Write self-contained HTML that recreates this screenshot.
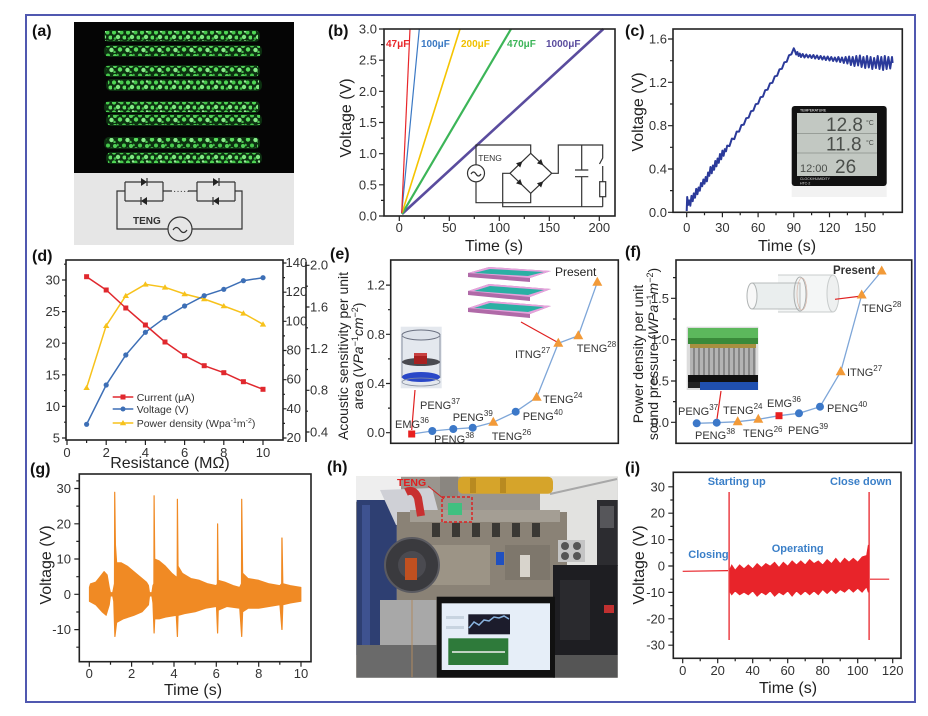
<!DOCTYPE html>
<html><head><meta charset="utf-8"><style>
html,body{margin:0;padding:0;background:#fff;}
svg{display:block;}
text{font-family:"Liberation Sans",sans-serif;}
.t{font-size:13px;fill:#333;}
.ax{font-size:16px;fill:#222;}
.pl{font-size:16px;font-weight:bold;fill:#111;}
.fr{fill:none;stroke:#222;stroke-width:1.6;}
.tk{stroke:#222;stroke-width:1.2;fill:none;}
.sr{font-family:"Liberation Serif",serif;font-size:11px;fill:#333;}
.ci{stroke:#333;stroke-width:1.2;fill:none;}
</style></head><body>
<svg width="928" height="716" viewBox="0 0 928 716" xmlns="http://www.w3.org/2000/svg">
<defs>
<pattern id="dp" x="0" y="0" width="14" height="10" patternUnits="userSpaceOnUse">
<circle cx="2" cy="2.5" r="2.1" fill="#4fd655"/><circle cx="6" cy="7" r="2.2" fill="#7ee880"/>
<circle cx="9.5" cy="2.5" r="2" fill="#46c84c"/><circle cx="12.5" cy="7.5" r="2" fill="#5ede62"/>
<circle cx="3" cy="8.5" r="1.3" fill="#3cb842"/><circle cx="7" cy="1.5" r="1.2" fill="#9af09a"/>
</pattern>
<pattern id="dp2" x="5" y="3" width="16" height="10" patternUnits="userSpaceOnUse">
<circle cx="3" cy="6.5" r="2.2" fill="#5ade5e"/><circle cx="7" cy="2.5" r="2" fill="#46c84c"/>
<circle cx="10.5" cy="7" r="2.2" fill="#86ec88"/><circle cx="14" cy="3" r="2" fill="#52d058"/>
<circle cx="0.5" cy="2" r="1.3" fill="#3cb842"/><circle cx="13.5" cy="9" r="1.2" fill="#4ac050"/>
</pattern>
</defs>

<!-- outer border -->
<rect x="26" y="15" width="889" height="687" fill="none" stroke="#5058b0" stroke-width="2"/>

<!-- ===== (a) ===== -->
<text class="pl" x="32" y="36">(a)</text>
<rect x="74" y="22" width="220" height="151" fill="#050505"/>
<g fill="#0c3010">
<rect x="104" y="30" width="156" height="12" rx="5"/><rect x="104" y="45" width="158" height="12" rx="5"/>
<rect x="104" y="65" width="156" height="12" rx="5"/><rect x="106" y="79" width="156" height="12" rx="5"/>
<rect x="104" y="101" width="156" height="12" rx="5"/><rect x="106" y="114" width="156" height="12" rx="5"/>
<rect x="104" y="137" width="156" height="12" rx="5"/><rect x="106" y="152" width="156" height="12" rx="5"/>
</g>
<rect x="105" y="31" width="153" height="10" fill="url(#dp)"/>
<rect x="106" y="46" width="154" height="10" fill="url(#dp2)"/>
<rect x="106" y="66" width="152" height="10" fill="url(#dp2)"/>
<rect x="108" y="80" width="151" height="10" fill="url(#dp)"/>
<rect x="106" y="102" width="152" height="10" fill="url(#dp)"/>
<rect x="108" y="115" width="152" height="10" fill="url(#dp2)"/>
<rect x="106" y="138" width="152" height="10" fill="url(#dp2)"/>
<rect x="108" y="153" width="152" height="10" fill="url(#dp)"/>
<rect x="74" y="173" width="220" height="72" fill="#e6e6e6"/>
<g class="ci">
<path d="M125,182 V201 M163,182 V201 M125,182 H163 M125,201 H163"/>
<path d="M197,182 V201 M235,182 V201 M197,182 H235 M197,201 H235"/>
<path d="M163,191 H172 M188,191 H197"/>
<path d="M125,191 H117 V229 H168 M192,229 H242 V191 H235"/>
<circle cx="180" cy="229" r="12"/>
<path d="M173,230 q3.5,-5 7,0 t7,0"/>
<path d="M147,178 V186 M141,197 V205 M219,178 V186 M213,197 V205"/>
</g>
<text x="173" y="194" font-size="10" fill="#333">·····</text>
<polygon points="141,178 147,182 141,186" fill="#222"/>
<polygon points="147,197 141,201 147,205" fill="#222"/>
<polygon points="213,178 219,182 213,186" fill="#222"/>
<polygon points="219,197 213,201 219,205" fill="#222"/>
<text x="133" y="224" font-size="10" font-weight="bold" fill="#333">TENG</text>

<!-- ===== (b) ===== -->
<text class="pl" x="328" y="36">(b)</text>
<g class="tk">
<path d="M379,216H384M379,184.8H384M379,153.7H384M379,122.5H384M379,91.3H384M379,60.2H384M379,29H384"/>
<path d="M381,200.4H384M381,169.3H384M381,138.1H384M381,106.9H384M381,75.8H384M381,44.6H384"/>
<path d="M399.3,216V221M449.3,216V221M499.3,216V221M549.3,216V221M599.3,216V221"/>
<path d="M424.3,216V219M474.3,216V219M524.3,216V219M574.3,216V219"/>
</g>
<g class="t" text-anchor="end">
<text x="377" y="220.5">0.0</text><text x="377" y="189.3">0.5</text><text x="377" y="158.2">1.0</text>
<text x="377" y="127">1.5</text><text x="377" y="95.8">2.0</text><text x="377" y="64.7">2.5</text><text x="377" y="33.5">3.0</text>
</g>
<g class="t" text-anchor="middle">
<text x="399.3" y="232">0</text><text x="449.3" y="232">50</text><text x="499.3" y="232">100</text>
<text x="549.3" y="232">150</text><text x="599.3" y="232">200</text>
</g>
<text class="ax" x="494" y="251" text-anchor="middle">Time (s)</text>
<text class="ax" transform="translate(351,118) rotate(-90)" text-anchor="middle">Voltage (V)</text>
<path d="M402,214 L603.3,29" stroke="#5a4c9e" stroke-width="2.6" fill="none"/>
<path d="M402,214 L511,29" stroke="#3cb558" stroke-width="2.2" fill="none"/>
<path d="M402,213 L460,29" stroke="#f5c400" stroke-width="1.6" fill="none"/>
<path d="M401.7,213 L419.3,29" stroke="#3a78c4" stroke-width="1.2" fill="none"/>
<path d="M401.7,213 L410,29" stroke="#e8262a" stroke-width="1.2" fill="none"/>
<rect class="fr" x="384" y="29" width="231" height="187"/>
<g font-size="10" font-weight="bold">
<text x="386" y="47" fill="#e8262a">47μF</text>
<text x="421" y="47" fill="#3a78c4">100μF</text>
<text x="461" y="47" fill="#f0c000">200μF</text>
<text x="507" y="47" fill="#3cb558">470μF</text>
<text x="546" y="47" fill="#5a4c9e">1000μF</text>
</g>
<g class="ci" stroke-width="1">
<circle cx="476" cy="173.3" r="8.5"/>
<path d="M471,174 q2.5,-4 5,0 t5,0"/>
<path d="M476,164.8 V145 H530.7 V153.3 M476,181.8 V202.7 H530.7 V193.3"/>
<path d="M530.7,153.3 L551.7,173.3 L530.7,193.3 L510,173.3 Z"/>
<path d="M510,173.3 H502.7 V206.7 H602.7 M551.7,173.3 H558.3 V145 H602.7 V158 L599.5,164 M602.7,166 V181.7 M602.7,196.7 V206.7"/>
<rect x="599.7" y="181.7" width="6" height="15"/>
<path d="M581.7,145 V170 M575,170 H588.3 M575,176.7 H588.3 M581.7,176.7 V206.7"/>
</g>
<g fill="#222">
<polygon points="-3,-3 3,0 -3,3" transform="translate(520.3,163.3) rotate(-44)"/>
<polygon points="-3,-3 3,0 -3,3" transform="translate(541.2,163.3) rotate(44)"/>
<polygon points="-3,-3 3,0 -3,3" transform="translate(520.3,183.3) rotate(44)"/>
<polygon points="-3,-3 3,0 -3,3" transform="translate(541.2,183.3) rotate(-44)"/>
</g>
<text x="478.3" y="161" font-size="8.5" fill="#333">TENG</text>

<!-- ===== (c) ===== -->
<text class="pl" x="625" y="36">(c)</text>
<g class="tk">
<path d="M668,212.3H673M668,169H673M668,125.7H673M668,82.3H673M668,39H673"/>
<path d="M670,190.6H673M670,147.3H673M670,104H673M670,60.7H673"/>
<path d="M686.7,212.3V217.3M722.4,212.3V217.3M758.1,212.3V217.3M793.8,212.3V217.3M829.5,212.3V217.3M865.2,212.3V217.3"/>
<path d="M704.5,212.3V215.3M740.2,212.3V215.3M776,212.3V215.3M811.6,212.3V215.3M847.4,212.3V215.3M883.1,212.3V215.3"/>
</g>
<g class="t" text-anchor="end">
<text x="667" y="216.8">0.0</text><text x="667" y="173.5">0.4</text><text x="667" y="130.2">0.8</text>
<text x="667" y="86.8">1.2</text><text x="667" y="43.5">1.6</text>
</g>
<g class="t" text-anchor="middle" font-size="14">
<text x="686.7" y="232">0</text><text x="722.4" y="232">30</text><text x="758.1" y="232">60</text>
<text x="793.8" y="232">90</text><text x="829.5" y="232">120</text><text x="865.2" y="232">150</text>
</g>
<text class="ax" x="787" y="251" text-anchor="middle">Time (s)</text>
<text class="ax" transform="translate(643,112) rotate(-90)" text-anchor="middle">Voltage (V)</text>
<!-- inset clock -->
<rect x="791.7" y="106" width="95" height="91" fill="#f2f2f2"/>
<rect x="791.7" y="106" width="95" height="80" rx="3" fill="#111"/>
<rect x="797" y="113" width="80" height="63" fill="#c2c8c2"/>
<line x1="797" y1="133.5" x2="877" y2="133.5" stroke="#8a908a" stroke-width="0.8"/>
<line x1="797" y1="153" x2="877" y2="153" stroke="#8a908a" stroke-width="0.8"/>
<text x="800" y="111.5" font-size="3.5" fill="#fff">TEMPERATURE</text>
<text x="826" y="131" font-size="19" fill="#4a4e4a">12.8</text>
<text x="826" y="150.5" font-size="19" fill="#4a4e4a">11.8</text>
<text x="800" y="172" font-size="11" fill="#4a4e4a">12:00</text>
<text x="835" y="173" font-size="19" fill="#4a4e4a">26</text>
<text x="866" y="125" font-size="7" fill="#4a4e4a">°C</text>
<text x="866" y="145" font-size="7" fill="#4a4e4a">°C</text>
<text x="800" y="180" font-size="3.5" fill="#ddd">CLOCK/HUMIDITY</text>
<text x="800" y="184.5" font-size="3.5" fill="#ddd">HTC-2</text>
<polyline fill="none" stroke="#2b3a9a" stroke-width="2" stroke-linejoin="round" points="686.7,211 687.2,197 688,205 689.1,200.4 690.3,205.7 691.5,195.9 692.7,201.2 693.8,193.4 695,197.7 696.2,188.9 697.4,194.2 698.6,187.5 699.8,190.7 701,183 702.2,186.2 703.4,179.5 704.5,183.7 705.7,177 706.9,181.3 708.1,172.5 709.3,175.8 710.5,167 711.7,173.3 712.9,165.5 714.1,169.8 715.3,161 716.4,166.3 717.6,158.5 718.8,162.8 720,154 721.2,159.3 722.4,150.6 723.6,155.8 724.8,149.1 726,151.3 727.2,145.6 729.5,146.1 731.9,138.6 734.3,139.1 736.7,131.6 739.1,131.6 741.4,125.1 743.8,124.6 746.2,118.2 748.6,117.7 751,111.2 753.3,110.7 755.7,104.2 758.1,103.7 760.5,97.2 762.9,96.7 765.2,90.2 767.6,89.7 770,83.3 772.4,82.8 774.8,76.3 777.1,75.8 779.5,69.3 781.9,68.8 784.3,62.3 786.7,61.8 789,55.3 791.4,54.3 793.8,48.3 795,51 796.2,54.5 797.4,52 798.6,56 799.8,53.5 801,57 802.7,54 804.5,57.5 806.3,54.5 808.1,57.5 809.9,55 811.6,58 813.4,55 815.2,58.5 817,55.5 818.8,59 820.6,56 822.4,59.5 824.1,56.5 825.9,60 827.7,56.5 829.5,60.5 831.3,57 833.1,61 834.9,57.5 836.6,61.5 838.4,57 840.2,62 842,57.5 843.8,63 845.6,57 847.4,63.5 849.1,56.5 850.9,65 852.7,57 854.5,66 856.3,56 858.1,65.5 859.9,55.5 861.6,67 863.4,57 865.2,68 867,56 868.8,67.5 870.6,57 872.3,69 874.1,58 875.9,68 877.7,56 879.5,69 881.3,57 883.1,70 884.8,56 886.6,69 888.4,57 890.2,68.5 892,57 892.6,63"/>
<rect class="fr" x="673" y="29" width="229.3" height="183.3"/>

<!-- ===== (d) ===== -->
<text class="pl" x="32" y="261">(d)</text>
<g class="tk">
<path d="M62,438H66M62,406.4H66M62,374.8H66M62,343.2H66M62,311.6H66M62,280H66"/>
<path d="M64,422.2H66M64,390.6H66M64,359H66M64,327.4H66M64,295.8H66M64,264.2H66"/>
<path d="M283,438H286.5M283,408.8H286.5M283,379.7H286.5M283,350.5H286.5M283,321.3H286.5M283,292.2H286.5M283,263H286.5"/>
<path d="M283,423.4H285M283,394.3H285M283,365.1H285M283,335.9H285M283,306.8H285M283,277.6H285"/>
<path d="M306,262V442" stroke-width="1.6"/>
<path d="M306,432H309.5M306,390.3H309.5M306,348.7H309.5M306,307H309.5M306,265.3H309.5"/>
<path d="M306,411.2H308M306,369.5H308M306,327.8H308M306,286.2H308"/>
<path d="M67,440V445M106.2,440V445M145.4,440V445M184.6,440V445M223.8,440V445M263,440V445"/>
<path d="M86.6,440V443M125.8,440V443M165,440V443M204.2,440V443M243.4,440V443"/>
</g>
<g class="t" text-anchor="end">
<text x="60" y="442.5">5</text><text x="60" y="410.9">10</text><text x="60" y="379.3">15</text>
<text x="60" y="347.7">20</text><text x="60" y="316.1">25</text><text x="60" y="284.5">30</text>
</g>
<g class="t" font-size="11.5">
<text x="286.5" y="442">20</text><text x="286.5" y="412.8">40</text><text x="286.5" y="383.7">60</text>
<text x="286.5" y="354.5">80</text><text x="285.5" y="325.3">100</text><text x="285.5" y="296.2">120</text><text x="285.5" y="267">140</text>
</g>
<g class="t" font-size="12">
<text x="310" y="436.3">0.4</text><text x="310" y="394.6">0.8</text><text x="310" y="353">1.2</text>
<text x="310" y="311.3">1.6</text><text x="310" y="269.6">2.0</text>
</g>
<g class="t" text-anchor="middle">
<text x="67" y="457">0</text><text x="106.2" y="457">2</text><text x="145.4" y="457">4</text>
<text x="184.6" y="457">6</text><text x="223.8" y="457">8</text><text x="263" y="457">10</text>
</g>
<text class="ax" x="170" y="468" text-anchor="middle">Resistance (MΩ)</text>
<polyline fill="none" stroke="#f7c21b" stroke-width="1.5" points="86.6,387.7 106.2,325.7 125.8,295.7 145.4,284.3 165,287.3 184.6,294 204.2,299 223.8,306 243.4,313.3 263,324.3"/>
<polyline fill="none" stroke="#3d6fb6" stroke-width="1.5" points="86.6,424.3 106.2,385 125.8,355 145.4,332.3 165,317.7 184.6,306 204.2,295.7 223.8,289.3 243.4,280.7 263,277.7"/>
<polyline fill="none" stroke="#e0282e" stroke-width="1.5" points="86.6,276.7 106.2,290 125.8,308 145.4,325 165,342 184.6,355.7 204.2,365.7 223.8,372.7 243.4,381.7 263,389.3"/>
<g fill="#f7c21b">
<polygon points="86.6,384.7 83.4,390 89.8,390"/><polygon points="106.2,322.7 103,328 109.4,328"/><polygon points="125.8,292.7 122.6,298 129,298"/><polygon points="145.4,281.3 142.2,286.6 148.6,286.6"/><polygon points="165,284.3 161.8,289.6 168.2,289.6"/><polygon points="184.6,291 181.4,296.3 187.8,296.3"/><polygon points="204.2,296 201,301.3 207.4,301.3"/><polygon points="223.8,303 220.6,308.3 227,308.3"/><polygon points="243.4,310.3 240.2,315.6 246.6,315.6"/><polygon points="263,321.3 259.8,326.6 266.2,326.6"/>
</g>
<g fill="#3d6fb6">
<circle cx="86.6" cy="424.3" r="2.6"/><circle cx="106.2" cy="385" r="2.6"/><circle cx="125.8" cy="355" r="2.6"/><circle cx="145.4" cy="332.3" r="2.6"/><circle cx="165" cy="317.7" r="2.6"/><circle cx="184.6" cy="306" r="2.6"/><circle cx="204.2" cy="295.7" r="2.6"/><circle cx="223.8" cy="289.3" r="2.6"/><circle cx="243.4" cy="280.7" r="2.6"/><circle cx="263" cy="277.7" r="2.6"/>
</g>
<g fill="#e0282e">
<rect x="84.1" y="274.2" width="5" height="5"/><rect x="103.7" y="287.5" width="5" height="5"/><rect x="123.3" y="305.5" width="5" height="5"/><rect x="142.9" y="322.5" width="5" height="5"/><rect x="162.5" y="339.5" width="5" height="5"/><rect x="182.1" y="353.2" width="5" height="5"/><rect x="201.7" y="363.2" width="5" height="5"/><rect x="221.3" y="370.2" width="5" height="5"/><rect x="240.9" y="379.2" width="5" height="5"/><rect x="260.5" y="386.8" width="5" height="5"/>
</g>
<rect class="fr" x="66" y="260" width="217" height="180"/>
<g stroke-width="1.5">
<line x1="112.7" y1="397" x2="133.3" y2="397" stroke="#e0282e"/>
<line x1="112.7" y1="409" x2="133.3" y2="409" stroke="#3d6fb6"/>
<line x1="112.7" y1="423" x2="133.3" y2="423" stroke="#f7c21b"/>
</g>
<rect x="120.5" y="394.5" width="5" height="5" fill="#e0282e"/>
<circle cx="123" cy="409" r="2.5" fill="#3d6fb6"/>
<polygon points="123,420 119.8,425.3 126.2,425.3" fill="#f7c21b"/>
<g font-size="10.5" fill="#333">
<text x="136.7" y="401">Current (μA)</text>
<text x="136.7" y="413">Voltage (V)</text>
<text x="136.7" y="427">Power density (Wpa<tspan font-size="7" dy="-4">-1</tspan><tspan dy="4">m</tspan><tspan font-size="7" dy="-4">-2</tspan><tspan dy="4">)</tspan></text>
</g>

<!-- ===== (e) ===== -->
<text class="pl" x="330" y="259">(e)</text>
<g class="tk">
<path d="M386,432.7H390.7M386,383.5H390.7M386,334.3H390.7M386,285.1H390.7"/>
<path d="M388,408.1H390.7M388,358.9H390.7M388,309.7H390.7"/>
</g>
<g class="t" text-anchor="end">
<text x="385" y="437.2">0.0</text><text x="385" y="388">0.4</text><text x="385" y="338.8">0.8</text><text x="385" y="289.6">1.2</text>
</g>
<g font-size="14" fill="#222" text-anchor="middle">
<text transform="translate(348,356) rotate(-90)">Acoustic sensitivity per unit</text>
<text transform="translate(363,356) rotate(-90)">area (<tspan font-style="italic">VPa</tspan><tspan font-size="9" dy="-5">−1</tspan><tspan font-style="italic" dy="5">cm</tspan><tspan font-size="9" dy="-5">−2</tspan><tspan dy="5">)</tspan></text>
</g>
<!-- layered inset -->
<g>
<polygon points="468,308 489,301 551,306 530,314 530,318 468,312" fill="#b06aa8"/>
<polygon points="468,308 489,301 551,306 530,314" fill="#e6a2dc"/>
<polygon points="474,308 490,303 544,307 528,312" fill="#2ab0a4"/>
<polygon points="468,291 489,284 551,289 530,297 530,301 468,295" fill="#b06aa8"/>
<polygon points="468,291 489,284 551,289 530,297" fill="#e6a2dc"/>
<polygon points="474,291 490,286 544,290 528,295" fill="#2ab0a4"/>
<polygon points="468,273 489,267 551,271 530,278 530,282 468,277" fill="#b06aa8"/>
<polygon points="468,273 489,267 551,271 530,278" fill="#e6a2dc"/>
<polygon points="474,273 490,269 544,272 528,276" fill="#2ab0a4"/>
</g>
<!-- cylinder inset -->
<rect x="400.7" y="326.7" width="41" height="61.6" fill="#e4e8ee"/>
<ellipse cx="421" cy="335" rx="19" ry="5" fill="#dde2ea" stroke="#6a7080" stroke-width="1"/>
<path d="M402,335 V378 M440,335 V378" stroke="#8890a0" stroke-width="1"/>
<ellipse cx="421" cy="362" rx="19" ry="4" fill="#4a4a50"/>
<rect x="414" y="353" width="13" height="11" fill="#a82020"/>
<rect x="414" y="353" width="13" height="3" fill="#c84040"/>
<ellipse cx="421" cy="377" rx="19" ry="5" fill="#2a48c8"/>
<ellipse cx="421" cy="382" rx="19" ry="4" fill="none" stroke="#8890a0" stroke-width="0.8"/>
<path d="M415,390 L411.7,430 M521,322 L557,342" stroke="#e02020" stroke-width="1.2"/>
<polyline fill="none" stroke="#7ea6d8" stroke-width="1.3" points="411.7,434 432.3,431 453.3,429 472.7,427.7 493.3,422.3 515.7,411.7 536.7,397.3 558.3,343.3 578.3,335.7 597.3,282.3"/>
<rect x="408.2" y="430.5" width="7" height="7" fill="#e82020"/>
<g fill="#3c78c8"><circle cx="432.3" cy="431" r="4"/><circle cx="453.3" cy="429" r="4"/><circle cx="472.7" cy="427.7" r="4"/><circle cx="515.7" cy="411.7" r="4"/></g>
<g fill="#f29a38">
<polygon points="493.3,416.8 488.3,425.8 498.3,425.8"/><polygon points="536.7,391.8 531.7,400.8 541.7,400.8"/><polygon points="558.3,337.8 553.3,346.8 563.3,346.8"/><polygon points="578.3,330.2 573.3,339.2 583.3,339.2"/><polygon points="597.3,276.8 592.3,285.8 602.3,285.8"/>
</g>
<rect class="fr" x="390.7" y="260" width="227.6" height="183.3"/>
<g class="sr">
<text x="395" y="428">EMG<tspan font-size="8" dy="-5">36</tspan></text>
<text x="420" y="409">PENG<tspan font-size="8" dy="-5">37</tspan></text>
<text x="434" y="443">PENG<tspan font-size="8" dy="-5">38</tspan></text>
<text x="452.7" y="421">PENG<tspan font-size="8" dy="-5">39</tspan></text>
<text x="491.7" y="440">TENG<tspan font-size="8" dy="-5">26</tspan></text>
<text x="522.7" y="420">PENG<tspan font-size="8" dy="-5">40</tspan></text>
<text x="543" y="403">TENG<tspan font-size="8" dy="-5">24</tspan></text>
<text x="515" y="358">ITNG<tspan font-size="8" dy="-5">27</tspan></text>
<text x="576.7" y="352">TENG<tspan font-size="8" dy="-5">28</tspan></text>
</g>
<text x="555" y="276" font-size="12" fill="#222">Present</text>

<!-- ===== (f) ===== -->
<text class="pl" x="625" y="257">(f)</text>
<g class="tk">
<path d="M671,422.3H676M671,381H676M671,339.6H676M671,298.3H676"/>
<path d="M673,401.6H676M673,360.3H676M673,319H676M673,277.6H676"/>
</g>
<g class="t" text-anchor="end">
<text x="669" y="426.8">0.0</text><text x="669" y="385.5">0.5</text><text x="669" y="344.1">1.0</text><text x="669" y="302.8">1.5</text>
</g>
<g font-size="14" fill="#222" text-anchor="middle">
<text transform="translate(643,354) rotate(-90)">Power density per unit</text>
<text transform="translate(658,354) rotate(-90)">sound pressure (<tspan font-style="italic">WPa</tspan><tspan font-size="9" dy="-5">−1</tspan><tspan font-style="italic" dy="5">m</tspan><tspan font-size="9" dy="-5">−2</tspan><tspan dy="5">)</tspan></text>
</g>
<!-- nanowire inset -->
<rect x="686.7" y="326.7" width="71.6" height="63.3" fill="#dcdcdc"/>
<rect x="688" y="328" width="70" height="10" fill="#5cb85c"/>
<rect x="688" y="338" width="70" height="6" fill="#3a8a3a"/>
<rect x="690" y="344" width="66" height="4" fill="#a89040"/>
<rect x="690" y="348" width="66" height="27" fill="#b4b4b4"/>
<path d="M694,348V375M699,348V375M704,348V375M709,348V375M714,348V375M719,348V375M724,348V375M729,348V375M734,348V375M739,348V375M744,348V375M749,348V375M754,348V375" stroke="#5a5a5a" stroke-width="1"/>
<rect x="688" y="375" width="70" height="7" fill="#111"/>
<rect x="700" y="382" width="58" height="8" fill="#2050b0"/>
<rect x="688" y="382" width="12" height="6" fill="#222"/>
<!-- tube inset -->
<path d="M778,275 H833 V312 H778" fill="#f4f6f6" stroke="#c8cccc" stroke-width="1"/>
<ellipse cx="833" cy="293.5" rx="6" ry="18.5" fill="#eef0f0" stroke="#c8cccc"/>
<path d="M752,283 H800 V309 H752" fill="#eaeeee" stroke="#b8bcbc" stroke-width="1"/>
<ellipse cx="752" cy="296" rx="5" ry="13" fill="#f8f8f8" stroke="#b0b4b4"/>
<ellipse cx="800" cy="294" rx="6" ry="17" fill="none" stroke="#a8acac"/>
<ellipse cx="802" cy="294" rx="5" ry="16" fill="none" stroke="#d8b0a0" stroke-width="0.6"/>
<path d="M721,391 L716.7,421 M835,299.3 L861.7,296" stroke="#e02020" stroke-width="1.2"/>
<polyline fill="none" stroke="#7ea6d8" stroke-width="1.3" points="696.7,423.3 716.7,422.7 737.7,421.7 758.3,419.3 779,415.7 799,413.3 820,406.7 840.7,371.7 861.7,295 881.7,271"/>
<g fill="#3c78c8"><circle cx="696.7" cy="423.3" r="4"/><circle cx="716.7" cy="422.7" r="4"/><circle cx="799" cy="413.3" r="4"/><circle cx="820" cy="406.7" r="4"/></g>
<rect x="775.5" y="412.2" width="7" height="7" fill="#e82020"/>
<g fill="#f29a38">
<polygon points="737.7,416.2 732.7,425.2 742.7,425.2"/><polygon points="758.3,413.8 753.3,422.8 763.3,422.8"/><polygon points="840.7,366.2 835.7,375.2 845.7,375.2"/><polygon points="861.7,289.5 856.7,298.5 866.7,298.5"/><polygon points="881.7,265.5 876.7,274.5 886.7,274.5"/>
</g>
<rect class="fr" x="676" y="260" width="235.7" height="183.3"/>
<g class="sr">
<text x="678" y="415">PENG<tspan font-size="8" dy="-5">37</tspan></text>
<text x="695" y="439">PENG<tspan font-size="8" dy="-5">38</tspan></text>
<text x="723" y="414">TENG<tspan font-size="8" dy="-5">24</tspan></text>
<text x="743" y="437">TENG<tspan font-size="8" dy="-5">26</tspan></text>
<text x="767" y="407">EMG<tspan font-size="8" dy="-5">36</tspan></text>
<text x="788" y="434">PENG<tspan font-size="8" dy="-5">39</tspan></text>
<text x="827" y="412">PENG<tspan font-size="8" dy="-5">40</tspan></text>
<text x="847" y="376">ITNG<tspan font-size="8" dy="-5">27</tspan></text>
<text x="862" y="312">TENG<tspan font-size="8" dy="-5">28</tspan></text>
</g>
<text x="833" y="274" font-size="11.5" font-weight="bold" fill="#333">Present</text>

<!-- ===== (g) ===== -->
<text class="pl" x="30" y="474">(g)</text>
<g class="tk">
<path d="M74.3,488.5H79.3M74.3,523.8H79.3M74.3,559H79.3M74.3,594.3H79.3M74.3,629.6H79.3"/>
<path d="M76.3,480.9H79.3M76.3,506.1H79.3M76.3,541.4H79.3M76.3,576.7H79.3M76.3,612H79.3M76.3,647.2H79.3"/>
<path d="M89.3,661.7V666.7M131.6,661.7V666.7M174,661.7V666.7M216.3,661.7V666.7M258.7,661.7V666.7M301,661.7V666.7"/>
<path d="M110.5,661.7V664.7M152.8,661.7V664.7M195.2,661.7V664.7M237.5,661.7V664.7M279.8,661.7V664.7"/>
</g>
<g class="t" text-anchor="end">
<text x="71" y="493">30</text><text x="71" y="528.3">20</text><text x="71" y="563.5">10</text>
<text x="71" y="598.8">0</text><text x="71" y="634.1">-10</text>
</g>
<g class="t" text-anchor="middle">
<text x="89.3" y="678">0</text><text x="131.6" y="678">2</text><text x="174" y="678">4</text>
<text x="216.3" y="678">6</text><text x="258.7" y="678">8</text><text x="301" y="678">10</text>
</g>
<text class="ax" x="193" y="695" text-anchor="middle">Time (s)</text>
<text class="ax" transform="translate(51,565) rotate(-90)" text-anchor="middle">Voltage (V)</text>
<polygon fill="#f08a24" stroke="#f08a24" stroke-width="0.8" stroke-linejoin="round" points="89.3,587.3 90.4,583.7 95.7,582 99.9,576.7 104.1,571.4 107.3,574.9 109.4,587.3 110.5,592.5 112.6,592.5 113.6,587.3 114.3,583.7 114.5,492.1 114.9,492.1 115.6,544.9 116.8,562.6 121.1,562.6 127.4,566.1 133.8,571.4 140.1,576.7 146.5,582 148.6,585.5 149.6,592.5 151.8,592.5 152.8,585.5 153.7,583.7 153.9,495.6 154.3,495.6 154.9,559 159.2,560.8 165.5,566.1 171.9,573.2 176.1,576.7 177,576.7 177.2,499.1 177.6,499.1 178.2,566.1 182.4,573.2 190.9,578.4 199.4,580.2 207.9,583.7 216.3,585.5 217.2,583.7 217.4,523.8 217.8,523.8 218.4,580.2 224.8,582 233.3,585.5 239.6,587.3 241.3,583.7 241.5,499.1 241.9,499.1 242.8,573.2 248.1,578.4 258.7,580.2 269.2,583.7 279.8,585.5 281.5,583.7 281.7,537.9 282.2,537.9 283,583.7 290.4,585.5 301,587.3 301,601.4 290.4,603.1 283,604.9 282.2,629.6 281.7,629.6 279.8,604.9 269.2,606.6 258.7,608.4 248.1,608.4 242.8,611.9 241.9,636.6 241.5,636.6 239.6,608.4 226.9,606.6 218.4,610.2 217.8,633.1 217.4,633.1 216.3,606.6 205.7,608.4 195.2,611.9 184.6,613.7 178.2,615.5 177.6,636.6 177.2,636.6 176.1,615.5 165.5,617.2 159.2,619 154.9,619 154.3,633.1 153.9,633.1 152.8,603.1 151.8,596.1 149.6,596.1 148.6,604.9 142.2,611.9 133.8,615.5 123.2,619 116.8,622.5 115.1,636.6 114.7,636.6 113.6,601.4 112.6,596.1 110.5,596.1 109.4,604.9 106.2,615.5 102,611.9 95.7,604.9 89.3,601.4"/>
<rect class="fr" x="79.3" y="474" width="231.7" height="187.7"/>

<!-- ===== (h) ===== -->
<text class="pl" x="327" y="472">(h)</text>
<g>
<rect x="356" y="476.7" width="261.7" height="201" fill="#9a958e"/>
<rect x="356" y="476.7" width="45" height="25" fill="#eeeeee"/>
<rect x="540" y="476.7" width="77.7" height="90" fill="#e2e2e0"/>
<rect x="597" y="500" width="20.7" height="66" fill="#2c2c30"/>
<rect x="600" y="506" width="14" height="22" fill="#56565a"/>
<rect x="458" y="476.7" width="95" height="17" rx="5" fill="#d6a42a"/>
<rect x="470" y="478" width="6" height="15" fill="#b88a20"/>
<rect x="500" y="478" width="6" height="15" fill="#b88a20"/>
<line x1="550" y1="494" x2="617" y2="479" stroke="#a8a8a8" stroke-width="2"/>
<rect x="440" y="476.7" width="18" height="20" fill="#8a8680"/>
<rect x="356.7" y="500" width="40" height="155" fill="#2e3f72"/>
<rect x="362" y="505" width="8" height="140" fill="#3e5290"/>
<polygon points="380,490 432,488 440,518 396,525" fill="#cfd0d6"/>
<rect x="397" y="512" width="170" height="88" fill="#8a8276"/>
<rect x="410" y="510" width="150" height="12" fill="#a49e94"/>
<rect x="432" y="523" width="8" height="14" fill="#3a3834"/><rect x="452" y="523" width="8" height="14" fill="#3a3834"/>
<rect x="472" y="523" width="8" height="14" fill="#3a3834"/><rect x="492" y="523" width="8" height="14" fill="#3a3834"/>
<rect x="512" y="523" width="8" height="14" fill="#3a3834"/><rect x="532" y="523" width="8" height="14" fill="#3a3834"/>
<rect x="430" y="545" width="60" height="40" fill="#9c9486"/>
<rect x="505" y="545" width="45" height="35" fill="#7e776c"/>
<rect x="520" y="555" width="10" height="22" fill="#d8d4cc"/>
<rect x="496" y="552" width="8" height="13" fill="#2050c0"/>
<circle cx="412" cy="565" r="27" fill="#3a3a3e" stroke="#5a5a60" stroke-width="2"/>
<circle cx="412" cy="565" r="14" fill="#4a4a50"/>
<rect x="405" y="558" width="12" height="22" fill="#c05020"/>
<rect x="558" y="540" width="27" height="22" fill="#c4c4c4"/>
<circle cx="565" cy="546" r="4" fill="#555"/><circle cx="577" cy="546" r="4" fill="#555"/>
<circle cx="565" cy="556" r="4" fill="#555"/><circle cx="577" cy="556" r="4" fill="#555"/>
<rect x="553" y="565" width="64.7" height="90" fill="#1e1e22"/>
<rect x="560" y="580" width="30" height="60" fill="#2a2a2e"/>
<rect x="604" y="605" width="10" height="8" fill="#c03030"/>
<rect x="356.7" y="645" width="80" height="32.7" fill="#6a6a6a"/>
<rect x="380" y="600" width="56" height="45" fill="#a8a8a8"/>
<rect x="553" y="655" width="64.7" height="22.7" fill="#555"/>
<line x1="412" y1="600" x2="412" y2="677" stroke="#b08a60" stroke-width="1"/>
<rect x="436.7" y="596.7" width="118.3" height="81" fill="#111"/>
<rect x="441.7" y="603.3" width="108.3" height="66.7" fill="#e6eef8"/>
<rect x="468.3" y="614.3" width="41.7" height="20" fill="#1c1c2c"/>
<polyline fill="none" stroke="#8ab4e0" stroke-width="1.5" points="469,628 474,622 479,625 484,620 489,621 494,617 499,618 504,616 509,619"/>
<rect x="448.3" y="638.3" width="60" height="26.7" fill="#2e7a3a"/>
<line x1="452" y1="652" x2="505" y2="652" stroke="#f0f0f0" stroke-width="1.5"/>
<rect x="446" y="616" width="18" height="3" fill="#c8d4e0"/>
<rect x="446" y="626" width="18" height="3" fill="#c8d4e0"/>
<rect x="442" y="497" width="30" height="25" fill="none" stroke="#e02020" stroke-width="1.5" stroke-dasharray="3,2"/>
<rect x="448" y="503" width="14" height="12" fill="#40c080"/>
<path d="M406,492 q8,-4 12,6 l3,18" stroke="#c83030" stroke-width="8" fill="none"/>
<line x1="428" y1="486" x2="444" y2="499" stroke="#d02020" stroke-width="1"/>
<text x="397" y="486" font-size="10.5" font-weight="bold" fill="#e02020">TENG</text>
</g>

<!-- ===== (i) ===== -->
<text class="pl" x="625" y="473">(i)</text>
<g class="tk">
<path d="M668.3,486.8H673.3M668.3,513.2H673.3M668.3,539.6H673.3M668.3,566H673.3M668.3,592.4H673.3M668.3,618.8H673.3M668.3,645.2H673.3"/>
<path d="M670.3,500H673.3M670.3,526.4H673.3M670.3,552.8H673.3M670.3,579.2H673.3M670.3,605.6H673.3M670.3,632H673.3"/>
<path d="M682.7,658.3V663.3M717.7,658.3V663.3M752.7,658.3V663.3M787.7,658.3V663.3M822.7,658.3V663.3M857.7,658.3V663.3M892.7,658.3V663.3"/>
<path d="M700.2,658.3V661.3M735.2,658.3V661.3M770.2,658.3V661.3M805.2,658.3V661.3M840.2,658.3V661.3M875.2,658.3V661.3"/>
</g>
<g class="t" text-anchor="end">
<text x="665" y="491.3">30</text><text x="665" y="517.7">20</text><text x="665" y="544.1">10</text>
<text x="665" y="570.5">0</text><text x="665" y="596.9">-10</text><text x="665" y="623.3">-20</text><text x="665" y="649.7">-30</text>
</g>
<g class="t" text-anchor="middle">
<text x="682.7" y="675">0</text><text x="717.7" y="675">20</text><text x="752.7" y="675">40</text>
<text x="787.7" y="675">60</text><text x="822.7" y="675">80</text><text x="857.7" y="675">100</text><text x="892.7" y="675">120</text>
</g>
<text class="ax" x="788" y="693" text-anchor="middle">Time (s)</text>
<text class="ax" transform="translate(644,565) rotate(-90)" text-anchor="middle">Voltage (V)</text>
<path d="M682.7,571.3 L728,570.6" stroke="#e8242a" stroke-width="1.2" fill="none"/>
<path d="M870,579.2 L889.2,579.2" stroke="#e8242a" stroke-width="1.2" fill="none"/>
<path d="M729.1,492 V640 M869.1,492 V640" stroke="#e8242a" stroke-width="1.3" fill="none"/>
<polygon fill="#e8242a" stroke="#e8242a" stroke-width="0.6" points="730,568.6 731.7,564.7 735.2,570 739.6,564.7 744,568.6 748.3,564.7 752.7,568.6 757.1,563.4 761.5,567.3 765.8,563.4 770.2,566 774.6,562 779,567.3 783.3,562 787.7,566 792.1,560.7 796.5,564.7 800.8,560.7 805.2,564.7 809.6,559.4 814,563.4 818.3,560.7 822.7,564.7 827.1,559.4 831.5,563.4 835.8,558.1 840.2,563.4 844.6,558.1 849,562 853.3,558.1 857.7,562 862.1,556.8 866.5,555.4 868.2,544.9 868.2,592.4 866.5,587.1 862.1,592.4 857.7,588.4 853.3,592.4 849,588.4 844.6,592.4 840.2,589.8 835.8,593.7 831.5,589.8 827.1,593.7 822.7,589.8 818.3,595 814,591.1 809.6,595 805.2,591.1 800.8,595 796.5,591.1 792.1,596.4 787.7,591.1 783.3,595 779,592.4 774.6,596.4 770.2,591.1 765.8,595 761.5,592.4 757.1,596.4 752.7,591.1 748.3,595 744,592.4 739.6,595 735.2,591.1 731.7,595 730,592.4"/>
<rect class="fr" x="673.3" y="472.3" width="227.7" height="186"/>
<g font-size="11" font-weight="bold" fill="#3a7fc8">
<text x="688.3" y="558">Closing</text>
<text x="707.7" y="485">Starting up</text>
<text x="771.7" y="552">Operating</text>
<text x="830" y="485">Close down</text>
</g>
</svg>
</body></html>
